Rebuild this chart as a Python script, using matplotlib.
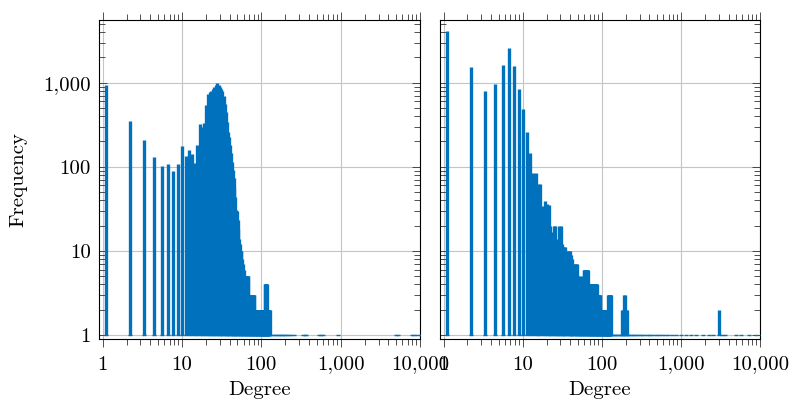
import matplotlib
matplotlib.use("Agg")
import matplotlib.pyplot as plt
from matplotlib.ticker import FixedLocator, NullFormatter
from matplotlib.transforms import ScaledTranslation

plt.rcParams["font.family"] = "cmr10"
plt.rcParams["mathtext.fontset"] = "cm"
plt.rcParams["axes.formatter.use_mathtext"] = True

# left panel: frequency of each degree 1..114
left_freq = [930, 353, 208, 130, 103, 108, 90, 108, 175, 135,
             158, 142, 112, 182, 323, 295, 330, 540, 740, 780,
             800, 850, 900, 950, 985, 940, 880, 840, 800, 700,
             560, 450, 344, 262, 228, 182, 145, 115, 92, 73,
             58, 44, 31, 30, 23, 18, 14, 12, 10, 10,
             8, 7, 6, 6, 5, 4, 5, 5, 5, 5,
             5, 3, 3, 3, 3, 3, 3, 2, 3, 3,
             3, 3, 3, 2, 2, 2, 2, 2, 2, 2,
             2, 2, 2, 2, 2, 2, 2, 2, 2, 2,
             2, 2, 2, 2, 2, 2, 2, 2, 2, 4,
             4, 4, 4, 4, 4, 2, 2, 2, 2, 2,
             2, 2, 2, 2]
left_deg = list(range(1, len(left_freq) + 1))
# isolated degrees seen once
left_ones = [126, 130, 137, 145, 150, 158, 165, 172, 180, 190, 200, 215,
             230, 300, 315, 330, 480, 500, 530, 830, 4400, 4700, 7000,
             7600, 8300, 9200]

# right panel: frequency of each degree 1..116
right_freq = [4150, 1550, 800, 970, 1620, 2560, 1580, 830, 490, 260,
              145, 84, 84, 62, 62, 34, 39, 36, 35, 20,
              17, 20, 20, 13, 14, 20, 20, 12, 11, 11,
              11, 10, 10, 10, 10, 9, 8, 8, 5, 7,
              7, 7, 7, 5, 5, 5, 4, 4, 4, 5,
              4, 4, 6, 6, 6, 6, 6, 6, 6, 6,
              4, 4, 4, 4, 4, 4, 4, 4, 4, 4,
              4, 4, 4, 4, 4, 4, 4, 3, 3, 3,
              3, 3, 3, 3, 3, 2, 2, 2, 2, 2,
              2, 2, 2, 2, 2, 2, 2, 2, 2, 2,
              2, 2, 2, 2, 2, 2, 2, 3, 3, 3,
              3, 3, 3, 3, 3, 3]
right_deg = list(range(1, len(right_freq) + 1))
right_extra_deg = [160, 165, 170, 175, 182, 187, 2750]
right_extra_freq = [2, 2, 3, 3, 2, 2, 2]
right_ones = [118, 122, 126, 131, 136, 141, 147, 153, 158, 192, 200, 210,
              220, 230, 245, 260, 275, 290, 310, 330, 350, 380, 410, 440,
              480, 520, 560, 620, 700, 780, 900, 1050, 1200, 1400, 1700,
              2000, 2300, 3000, 3200, 4500, 5200, 6500, 8000, 9500]

x_major = [1, 10, 100, 1000, 10000]
x_labels = ["1", "10", "100", "1,000", "10,000"]
y_major = [1, 10, 100, 1000]
y_labels = ["1", "10", "100", "1,000"]

blue = "#0072bd"

fig = plt.figure(figsize=(7.93, 4.01), dpi=100)
ax1 = fig.add_axes([99 / 793, 62.5 / 401, 321 / 793, 318.5 / 401])
ax2 = fig.add_axes([440 / 793, 62.5 / 401, 320 / 793, 318.5 / 401])

shift = ScaledTranslation(3.8 / 100, 0, fig.dpi_scale_trans)


def draw(ax, deg, freq, ones):
    tr = ax.transData + shift
    ax.vlines(deg, 1, freq, colors=blue, lw=2.4, transform=tr, zorder=3)
    ax.plot(deg + ones, [1] * (len(deg) + len(ones)), ls="none", marker="_",
            ms=2.4, mew=1.0, color=blue, transform=tr, zorder=3)


draw(ax1, left_deg, left_freq, left_ones)
draw(ax2, right_deg + right_extra_deg, right_freq + right_extra_freq, right_ones)

minor_x = [m * 10 ** e for e in range(0, 4) for m in range(2, 10)]
minor_y = [m * 10 ** e for e in range(0, 4) for m in range(2, 10) if m * 10 ** e < 5500]

for ax in (ax1, ax2):
    ax.set_xscale("log")
    ax.set_yscale("log")
    ax.set_xlim(0.9, 10000)
    ax.set_ylim(0.91, 5560)
    ax.xaxis.set_major_locator(FixedLocator(x_major))
    ax.xaxis.set_minor_locator(FixedLocator(minor_x))
    ax.yaxis.set_major_locator(FixedLocator(y_major))
    ax.yaxis.set_minor_locator(FixedLocator(minor_y))
    ax.xaxis.set_minor_formatter(NullFormatter())
    ax.yaxis.set_minor_formatter(NullFormatter())
    ax.set_xticklabels(x_labels)
    ax.grid(True, which="major", color="#c4c4c4", lw=0.8, zorder=0)
    ax.set_axisbelow(True)
    ax.tick_params(axis="x", which="both", direction="out", top=True,
                   bottom=True, labelsize=15, pad=6.5, color="#333333")
    ax.tick_params(axis="y", which="both", direction="in", left=True,
                   right=True, labelsize=15, pad=6, color="#333333")
    ax.tick_params(which="major", length=5.8, width=0.6)
    ax.tick_params(which="minor", length=4.3, width=0.6)
    for s in ax.spines.values():
        s.set_linewidth(0.8)
    ax.set_xlabel("Degree", fontsize=15, labelpad=5.5)

ax1.set_yticklabels(y_labels)
ax2.yaxis.set_major_formatter(NullFormatter())
ax1.set_ylabel("Frequency", fontsize=15, labelpad=11)

fig.savefig("out.png", dpi=100)
